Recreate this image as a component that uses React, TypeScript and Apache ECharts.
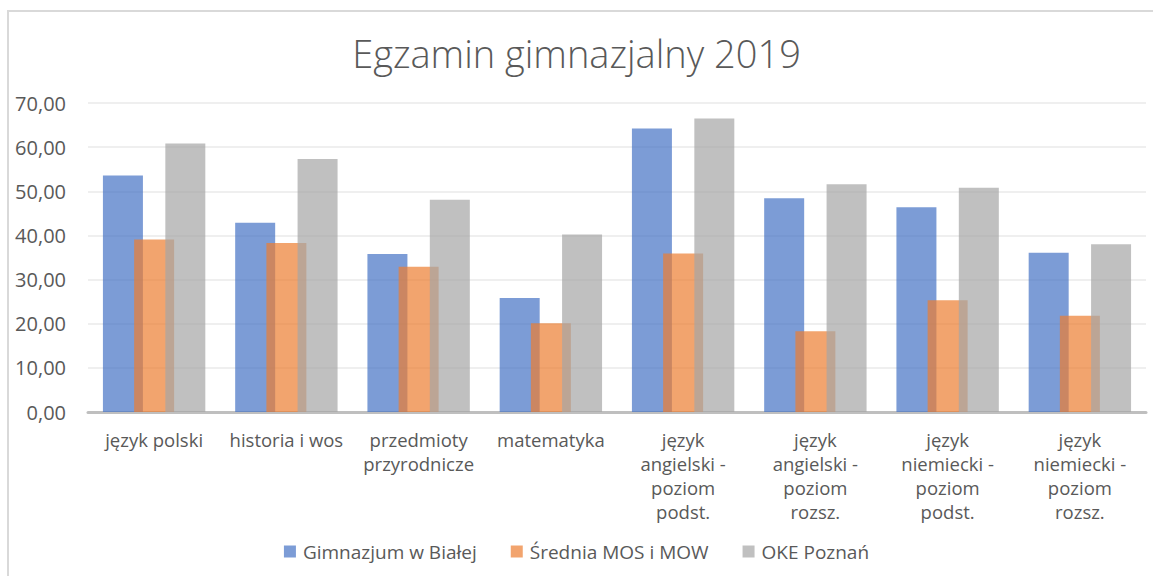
import React, { useEffect, useRef } from "react";
import * as echarts from "echarts";

const TITLE = "Egzamin gimnazjalny 2019";
const categories = [
  "język polski",
  "historia i wos",
  "przedmioty przyrodnicze",
  "matematyka",
  "język angielski - poziom podst.",
  "język angielski - poziom rozsz.",
  "język niemiecki - poziom podst.",
  "język niemiecki - poziom rozsz.",
];
const seriesNames = ["Gimnazjum w Białej", "Średnia MOS i MOW", "OKE Poznań"];
const gimnazjum = [53.6, 42.9, 35.8, 25.8, 64.2, 48.4, 46.4, 36.1];
const sredniaMos = [39.1, 38.3, 32.9, 20.1, 35.9, 18.3, 25.3, 21.8];
const okePoznan = [60.8, 57.3, 48.1, 40.2, 66.5, 51.6, 50.8, 38.0];
const seriesValues = [gimnazjum, sredniaMos, okePoznan];
const colors = ["#4472C4", "#ED7D31", "#A5A5A5"];

const FONT = "'Open Sans', Lato, sans-serif";
const TXT = "#595959";

// Wrap long category names the way the original chart does (a " -" stays on its line)
const wrapLabel = (label: string) =>
  label.length > 14 ? label.replace(/ (?!-)/g, "\n") : label;

export default function App() {
  const ref = useRef<HTMLDivElement>(null);
  useEffect(() => {
    if (!ref.current) return;
    const chart = echarts.init(ref.current, null, { renderer: "svg" });
    chart.setOption({
      animation: false,
      backgroundColor: "#ffffff",
      textStyle: { fontFamily: FONT },
      title: {
        text: TITLE,
        left: "center",
        top: 29,
        textStyle: { fontFamily: FONT, fontSize: 38, fontWeight: 300, color: TXT },
      },
      graphic: [
        {
          type: "rect",
          shape: { x: 8, y: 11, width: 1300, height: 700 },
          style: { fill: "none", stroke: "#D9D9D9", lineWidth: 2 },
          silent: true,
        },
      ],
      legend: {
        top: 537,
        left: "center",
        itemWidth: 12,
        itemHeight: 12,
        itemGap: 34,
        icon: "rect",
        textStyle: { fontFamily: FONT, fontSize: 19, color: TXT, padding: [0, 0, 0, 2] },
        data: seriesNames,
      },
      grid: { left: 88, right: 7, top: 103, bottom: 164, containLabel: false },
      xAxis: {
        type: "category",
        data: categories,
        axisTick: { show: false },
        axisLine: { lineStyle: { color: "#BFBFBF", width: 3 } },
        axisLabel: {
          interval: 0,
          margin: 15,
          fontFamily: FONT,
          fontSize: 18.5,
          color: TXT,
          lineHeight: 24,
          formatter: (v: string) => wrapLabel(v),
        },
      },
      yAxis: {
        type: "value",
        min: 0,
        max: 70,
        interval: 10,
        axisLine: { show: false },
        axisTick: { show: false },
        splitLine: { lineStyle: { color: "#EFEFEF", width: 2 } },
        axisLabel: {
          margin: 22,
          fontFamily: FONT,
          fontSize: 20,
          color: TXT,
          formatter: (v: number) => v.toFixed(2).replace(".", ","),
        },
      },
      series: seriesNames.map((name, i) => ({
        name,
        type: "bar",
        data: seriesValues[i],
        barWidth: 40,
        barGap: "-22%",
        itemStyle: { color: colors[i], opacity: 0.7 },
      })),
    });
    return () => chart.dispose();
  }, []);
  return (
    <div
      ref={ref}
      style={{ position: "fixed", left: 0, top: 0, width: 1153, height: 576 }}
    />
  );
}
